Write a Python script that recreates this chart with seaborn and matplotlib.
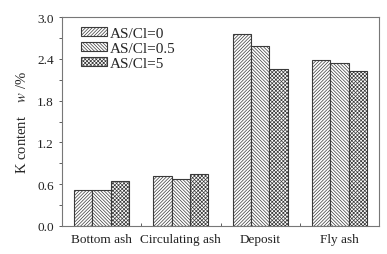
import pandas as pd
import matplotlib
matplotlib.use("Agg")
import matplotlib.pyplot as plt
from matplotlib.ticker import MultipleLocator, FixedLocator, FormatStrFormatter
from matplotlib.patches import Patch
import seaborn as sns

# data
categories = ["Bottom ash", "Circulating ash", "Deposit", "Fly ash"]
ratios = ["AS/Cl=0", "AS/Cl=0.5", "AS/Cl=5"]
k_values = {
    "AS/Cl=0": [0.52, 0.72, 2.75, 2.38],
    "AS/Cl=0.5": [0.52, 0.67, 2.58, 2.34],
    "AS/Cl=5": [0.64, 0.75, 2.26, 2.22],
}
hatches = ["//////////", "\\\\\\\\\\\\\\\\\\\\", "xxxxxxxxx"]

rows = []
for r in ratios:
    for c, v in zip(categories, k_values[r]):
        rows.append({"sample": c, "ratio": r, "k": v})
df = pd.DataFrame(rows)

sns.set_style("ticks")
plt.rcParams["font.family"] = ["Liberation Serif", "DejaVu Serif"]
plt.rcParams["mathtext.fontset"] = "stix"
plt.rcParams["hatch.linewidth"] = 0.5
plt.rcParams["hatch.color"] = "#666666"

fig = plt.figure(figsize=(3.87, 2.55), dpi=100)
ax = fig.add_axes([62 / 387, 1 - 227 / 255, 317 / 387, 209 / 255])

sns.barplot(data=df, x="sample", y="k", hue="ratio", order=categories,
            hue_order=ratios, palette=["white"] * 3, width=0.694,
            edgecolor="#3a3a3a", linewidth=0.8, ax=ax, legend=False)

# apply hatches per hue level (patches are grouped by hue)
n = len(categories)
for i, p in enumerate(ax.patches[: n * len(ratios)]):
    p.set_hatch(hatches[i // n])
    p.set_facecolor("white")

handles = [Patch(facecolor="white", edgecolor="#3a3a3a", hatch=h, linewidth=0.8)
           for h in hatches]
ax.legend(handles, ratios, loc="upper left", bbox_to_anchor=(0.03, 0.995),
          frameon=False, fontsize=11, handlelength=1.7, handleheight=0.5,
          handletextpad=0.2, labelspacing=0.12, borderaxespad=0.2)

ax.set_xlim(-0.5, 3.5)
ax.set_ylim(0, 3.0)
ax.yaxis.set_major_locator(MultipleLocator(0.6))
ax.yaxis.set_minor_locator(MultipleLocator(0.3))
ax.yaxis.set_major_formatter(FormatStrFormatter("%.1f"))
ax.xaxis.set_minor_locator(FixedLocator([0.5, 1.5, 2.5]))

ax.tick_params(axis="y", which="both", direction="out", length=2.5,
               width=0.6, colors="#444444", labelsize=9.5, labelcolor="#222222")
ax.tick_params(axis="x", which="both", direction="in", length=2.5,
               width=0.6, colors="#444444", labelsize=9.5, labelcolor="#222222",
               pad=5)

for s in ax.spines.values():
    s.set_visible(True)
    s.set_color("#777777")
    s.set_linewidth(0.8)

ax.set_xlabel("")
ax.set_ylabel(r"K content    $\it{w}$ /%", fontsize=10.5, labelpad=6)

fig.savefig("out.png", dpi=100)
